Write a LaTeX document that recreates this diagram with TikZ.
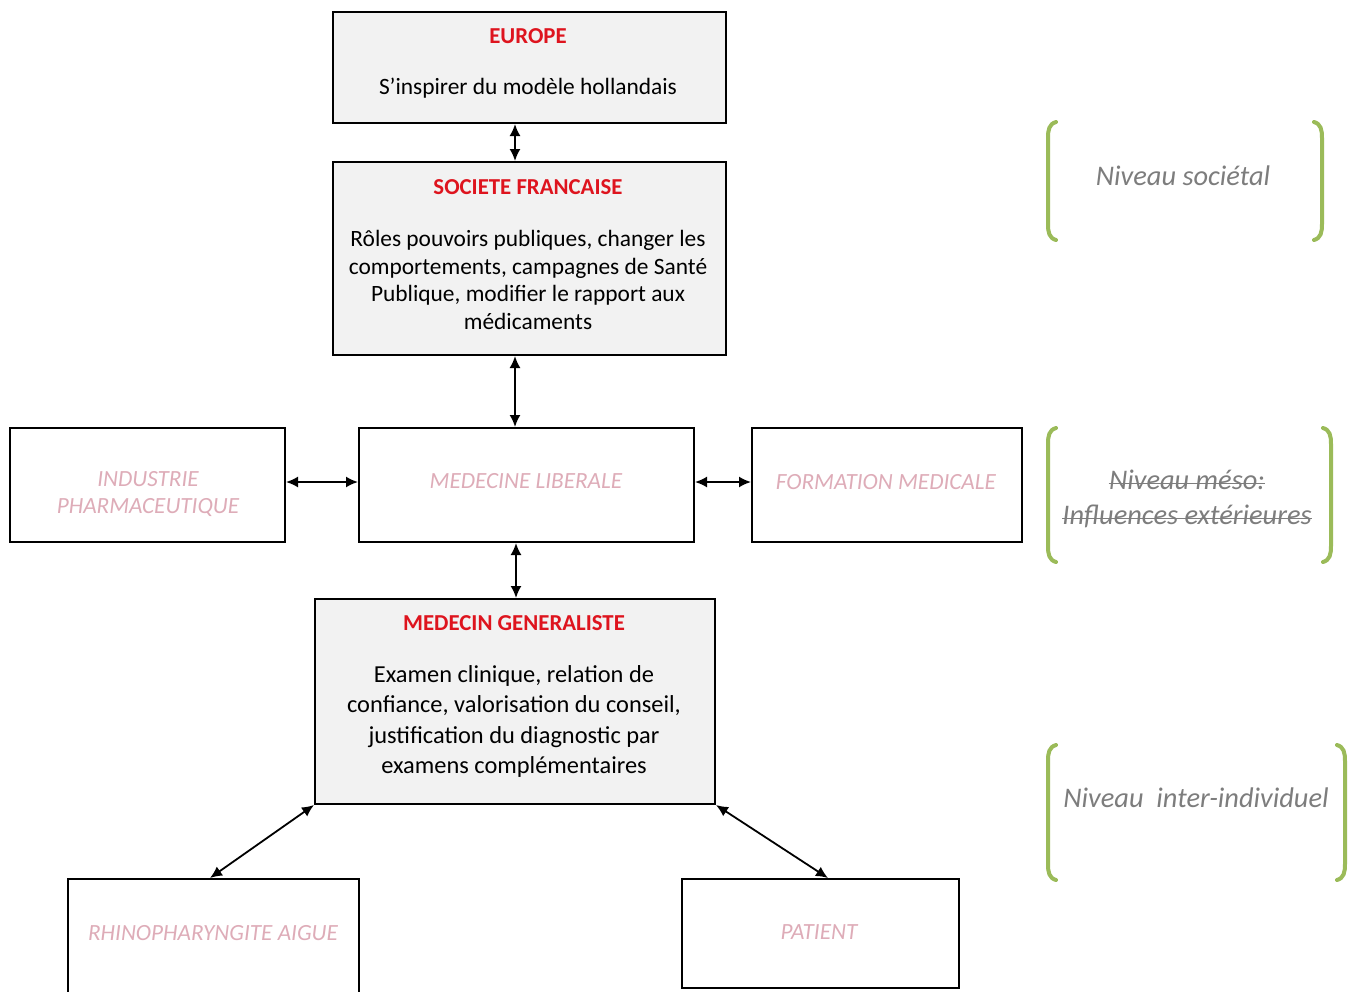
\documentclass[tikz,border=0pt]{standalone}
\usepackage{fontspec}
\setmainfont{Carlito}
\usetikzlibrary{arrows.meta}
\definecolor{boxgray}{RGB}{242,242,242}
\definecolor{titred}{RGB}{222,20,30}
\definecolor{pinktxt}{RGB}{222,172,184}
\definecolor{lvlgray}{RGB}{125,125,125}
\definecolor{brgreen}{RGB}{155,187,89}
\tikzset{
  box/.style={draw=black, line width=1pt, anchor=north west, inner sep=0pt},
  graybox/.style={box, fill=boxgray},
  whitebox/.style={box, fill=white},
  title/.style={text=titred, font=\bfseries\fontsize{11.4}{13}\selectfont, inner sep=0pt},
  body/.style={align=center, font=\fontsize{11.7}{13.8}\selectfont, inner sep=0pt},
  bigbody/.style={align=center, font=\fontsize{12.2}{15.2}\selectfont, inner sep=0pt},
  pink/.style={text=pinktxt, align=center, font=\itshape\fontsize{11.6}{13.5}\selectfont, inner sep=0pt},
  level/.style={text=lvlgray, align=center, font=\itshape\fontsize{14.2}{18}\selectfont, inner sep=0pt},
  link/.style={line width=0.9pt, {Latex[length=6pt,width=5.5pt]}-{Latex[length=6pt,width=5.5pt]}},
  bracket/.style={draw=brgreen, line width=2pt, line cap=round},
  strike/.style={draw=lvlgray, line width=0.6pt}
}
\begin{document}
\begin{tikzpicture}[x=0.5pt,y=-0.5pt]
\clip (0,0) rectangle (1362,992);
\fill[white] (0,0) rectangle (1362,992);
% boxes
\node[graybox, minimum width=196.5pt, minimum height=55.5pt] (eu) at (332,11) {};
\node[graybox, minimum width=196.5pt, minimum height=96.5pt] (sf) at (332,161) {};
\node[whitebox, minimum width=167.5pt, minimum height=57pt] (ml) at (358,427) {};
\node[whitebox, minimum width=137.5pt, minimum height=57pt] (ip) at (9,427) {};
\node[whitebox, minimum width=135pt, minimum height=57pt] (fm) at (751,427) {};
\node[graybox, minimum width=200pt, minimum height=102.5pt] (mg) at (314,598) {};
\node[whitebox, minimum width=145.5pt, minimum height=70pt] (rh) at (67,878) {};
\node[whitebox, minimum width=138.5pt, minimum height=54.5pt] (pa) at (681,878) {};
% texts
\node[title] (eut) at (528,36) {EUROPE};
\node[body] (eub) at (528,88) {S’inspirer du modèle hollandais};
\node[title] (sft) at (528,187) {SOCIETE FRANCAISE};
\node[body, anchor=north] (sfb) at (528,230) {Rôles pouvoirs publiques, changer les\\comportements, campagnes de Santé\\Publique, modifier le rapport aux\\médicaments};
\node[pink] (mlt) at (526,481) {MEDECINE LIBERALE};
\node[pink] (ipt) at (148,494) {INDUSTRIE\\PHARMACEUTIQUE};
\node[pink] (fmt) at (886,482) {FORMATION MEDICALE};
\node[title] (mgt) at (514,623) {MEDECIN GENERALISTE};
\node[bigbody, anchor=north] (mgb) at (514,665) {Examen clinique, relation de\\confiance, valorisation du conseil,\\justification du diagnostic par\\examens complémentaires};
\node[pink] (rht) at (213,933) {RHINOPHARYNGITE AIGUE};
\node[pink] (pat) at (819,932) {PATIENT};
% connectors
\draw[link] (eu.south -| 515,0) -- (sf.north -| 515,0);
\draw[link] (sf.south -| 515,0) -- (ml.north -| 515,0);
\draw[link] (ip.east |- 0,482) -- (ml.west |- 0,482);
\draw[link] (ml.east |- 0,482) -- (fm.west |- 0,482);
\draw[link] (ml.south -| 516,0) -- (mg.north -| 516,0);
\draw[link] (mg.south west) -- (rh.north -| 210,0);
\draw[link] (mg.south east) -- (pa.north -| 828,0);
% level brackets
\draw[bracket] (1056,122) .. controls (1049,124) and (1048,130) .. (1048,138) -- (1048,224) .. controls (1048,232) and (1049,238) .. (1056,240);
\draw[bracket] (1314,122) .. controls (1321,124) and (1322,130) .. (1322,138) -- (1322,224) .. controls (1322,232) and (1321,238) .. (1314,240);
\node[level] (n1) at (1183,176) {Niveau sociétal};
\draw[bracket] (1056,428) .. controls (1049,430) and (1048,436) .. (1048,444) -- (1048,546) .. controls (1048,554) and (1049,560) .. (1056,562);
\draw[bracket] (1323,428) .. controls (1330,430) and (1331,436) .. (1331,444) -- (1331,546) .. controls (1331,554) and (1330,560) .. (1323,562);
\node[level] (n2a) at (1187,480) {Niveau méso:};
\node[level] (n2b) at (1187,516) {Influences extérieures};
\draw[strike] ([yshift=2.9pt]n2a.base west) -- ([yshift=2.9pt]n2a.base east);
\draw[strike] ([yshift=2.9pt]n2b.base west) -- ([yshift=2.9pt]n2b.base east);
\draw[bracket] (1056,745) .. controls (1049,747) and (1048,753) .. (1048,761) -- (1048,864) .. controls (1048,872) and (1049,878) .. (1056,880);
\draw[bracket] (1337,745) .. controls (1344,747) and (1345,753) .. (1345,761) -- (1345,864) .. controls (1345,872) and (1344,878) .. (1337,880);
\node[level] (n3) at (1196,798) {Niveau\ \ inter-individuel};
\end{tikzpicture}
\end{document}
